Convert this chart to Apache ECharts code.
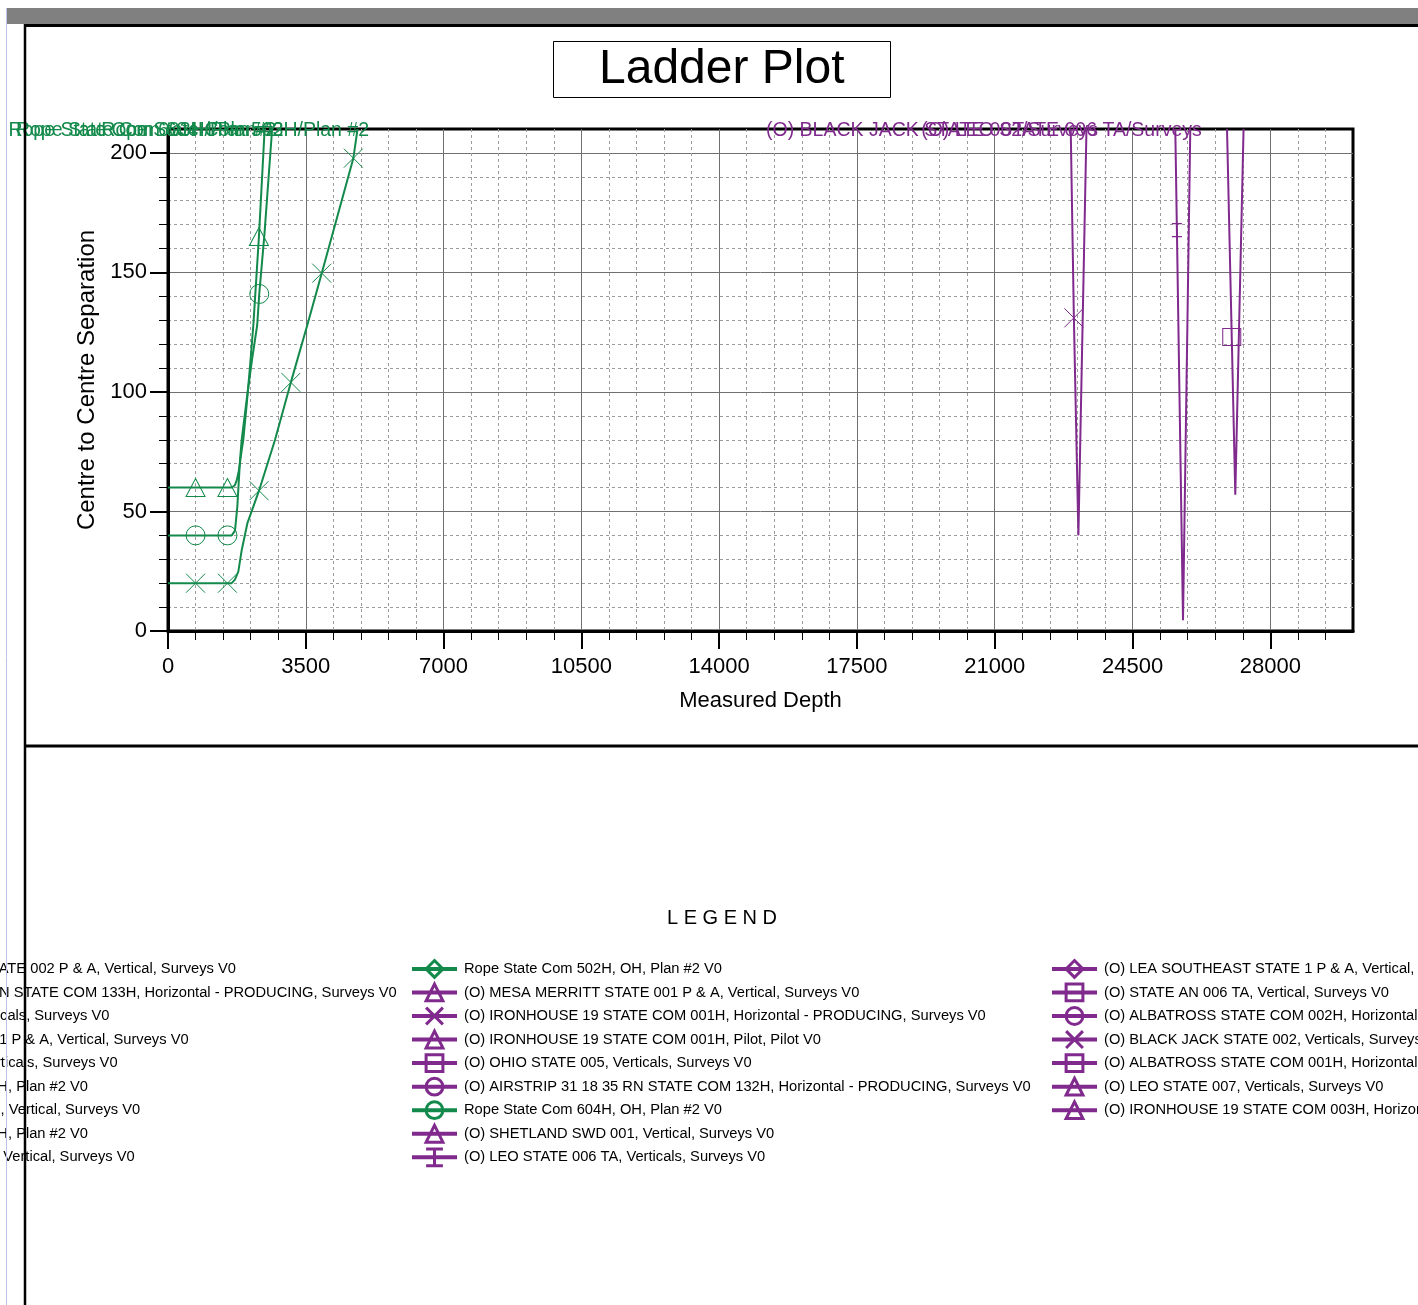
<!DOCTYPE html>
<html>
<head>
<meta charset="utf-8">
<title>Ladder Plot</title>
<script src="https://cdn.jsdelivr.net/npm/echarts@6/dist/echarts.min.js"></script>
<style>
  html, body { margin: 0; padding: 0; background: #fff; }
  #chart { width: 1418px; height: 1305px; }
</style>
</head>
<body>
<div id="chart"></div>
<script>
// ---- Axis ticks -------------------------------------------------------
const depthTicks = [0, 3500, 7000, 10500, 14000, 17500, 21000, 24500, 28000];
const sepTicks = [0, 50, 100, 150, 200];
const depthMax = 30100;
const sepMax = 210;

// ---- Plan wells (green): [measured depth, centre-to-centre separation] --
const rope503 = [[0, 20], [700, 20], [1510, 20], [1618, 20], [1700, 21.5], [1786, 24.8], [1873, 33.9], [2015, 45], [2312, 58.7], [2719, 80], [3120, 104], [3539, 128], [3905, 149.7], [4708, 197.8], [4815, 210]];
const rope503Markers = [700, 1510, 2312, 3120, 3905, 4708];

const rope603 = [[0, 60], [700, 60], [1510, 60], [1620, 60], [1700, 61], [1745, 63], [1800, 67], [1872, 75.7], [1913, 80], [2000, 95], [2090, 112], [2168, 128], [2310, 165], [2455, 210]];
const rope603Markers = [700, 1510, 2310];

const rope604 = [[0, 40], [700, 40], [1510, 40], [1620, 40], [1702, 42], [1761, 52], [1829, 71.5], [1872, 80], [2000, 97], [2130, 113], [2266, 128], [2318, 141], [2450, 166], [2645, 210]];
const rope604Markers = [700, 1510, 2318];

// ---- Offset wells (purple) --------------------------------------------
const blackJack002 = [[22930, 210], [23010, 131], [23125, 40], [23330, 210]];
const blackJack002Markers = [23010];

const leo006 = [[25586, 210], [25627, 167.7], [25782, 4.5], [25967, 210]];
const leo006Markers = [25627];

const ohio005 = [[26900, 210], [27020, 123], [27110, 57], [27320, 210]];
const ohio005Markers = [27020];

// ---- Legend columns ----------------------------------------------------
const legendCol1 = [
  '(O) LEA SOUTHEAST STATE 002 P & A, Vertical, Surveys V0',
  '(O) AIRSTRIP 31 18 35 RN STATE COM 133H, Horizontal - PRODUCING, Surveys V0',
  '(O) LEO STATE 005, Verticals, Surveys V0',
  '(O) CARDINAL STATE 001 P & A, Vertical, Surveys V0',
  '(O) OHIO STATE 006, Verticals, Surveys V0',
  'Rope State Com 503H, OH, Plan #2 V0',
  '(O) SHETLAND SWD 002, Vertical, Surveys V0',
  'Rope State Com 603H, OH, Plan #2 V0',
  '(O) SHETLAND STATE 1, Vertical, Surveys V0'
];
const legendCol2 = [
  'Rope State Com 502H, OH, Plan #2 V0',
  '(O) MESA MERRITT STATE 001 P & A, Vertical, Surveys V0',
  '(O) IRONHOUSE 19 STATE COM 001H, Horizontal - PRODUCING, Surveys V0',
  '(O) IRONHOUSE 19 STATE COM 001H, Pilot, Pilot V0',
  '(O) OHIO STATE 005, Verticals, Surveys V0',
  '(O) AIRSTRIP 31 18 35 RN STATE COM 132H, Horizontal - PRODUCING, Surveys V0',
  'Rope State Com 604H, OH, Plan #2 V0',
  '(O) SHETLAND SWD 001, Vertical, Surveys V0',
  '(O) LEO STATE 006 TA, Verticals, Surveys V0'
];
const legendCol3 = [
  '(O) LEA SOUTHEAST STATE 1 P & A, Vertical, Surveys V0',
  '(O) STATE AN 006 TA, Vertical, Surveys V0',
  '(O) ALBATROSS STATE COM 002H, Horizontal - PRODUCING, Surveys V0',
  '(O) BLACK JACK STATE 002, Verticals, Surveys V0',
  '(O) ALBATROSS STATE COM 001H, Horizontal - PRODUCING, Surveys V0',
  '(O) LEO STATE 007, Verticals, Surveys V0',
  '(O) IRONHOUSE 19 STATE COM 003H, Horizontal - PRODUCING, Surveys V0'
];

// ---- Styling -----------------------------------------------------------
const FONT = "'Liberation Sans', Arial, Helvetica, sans-serif";
const GREEN = '#138a4b';
const PURPLE = '#7f2a8c';
const SYM = {
  tri: 'triangle',
  circ: 'circle',
  sq: 'rect',
  dia: 'diamond',
  cross: 'path://M0,0L20,20M20,0L0,20',
  ibeam: 'path://M0,0L10,0M0,13L10,13M5,0L5,13'
};
const SYM_SIZE = {
  tri: [19, 18], circ: 19, sq: [18, 17], dia: 19, cross: 19, ibeam: [10, 13]
};

// well name -> [colour, marker kind, curve, marker depths, curve label]
const wells = {
  'Rope State Com 503H, OH, Plan #2 V0': [GREEN, 'cross', rope503, rope503Markers, 'Rope State Com 503H/Plan #2'],
  'Rope State Com 603H, OH, Plan #2 V0': [GREEN, 'tri', rope603, rope603Markers, 'Rope State Com 603H/Plan #2'],
  'Rope State Com 604H, OH, Plan #2 V0': [GREEN, 'circ', rope604, rope604Markers, 'Rope State Com 604H/Plan #2'],
  'Rope State Com 502H, OH, Plan #2 V0': [GREEN, 'dia'],
  '(O) BLACK JACK STATE 002, Verticals, Surveys V0': [PURPLE, 'cross', blackJack002, blackJack002Markers, '(O) BLACK JACK STATE 002/Surveys'],
  '(O) LEO STATE 006 TA, Verticals, Surveys V0': [PURPLE, 'ibeam', leo006, leo006Markers, '(O) LEO STATE 006 TA/Surveys'],
  '(O) OHIO STATE 005, Verticals, Surveys V0': [PURPLE, 'sq', ohio005, ohio005Markers, null],
  '(O) LEA SOUTHEAST STATE 002 P & A, Vertical, Surveys V0': [PURPLE, 'tri'],
  '(O) AIRSTRIP 31 18 35 RN STATE COM 133H, Horizontal - PRODUCING, Surveys V0': [PURPLE, 'circ'],
  '(O) LEO STATE 005, Verticals, Surveys V0': [PURPLE, 'sq'],
  '(O) CARDINAL STATE 001 P & A, Vertical, Surveys V0': [PURPLE, 'tri'],
  '(O) OHIO STATE 006, Verticals, Surveys V0': [PURPLE, 'dia'],
  '(O) SHETLAND SWD 002, Vertical, Surveys V0': [PURPLE, 'tri'],
  '(O) SHETLAND STATE 1, Vertical, Surveys V0': [PURPLE, 'sq'],
  '(O) MESA MERRITT STATE 001 P & A, Vertical, Surveys V0': [PURPLE, 'tri'],
  '(O) IRONHOUSE 19 STATE COM 001H, Horizontal - PRODUCING, Surveys V0': [PURPLE, 'cross'],
  '(O) IRONHOUSE 19 STATE COM 001H, Pilot, Pilot V0': [PURPLE, 'tri'],
  '(O) AIRSTRIP 31 18 35 RN STATE COM 132H, Horizontal - PRODUCING, Surveys V0': [PURPLE, 'circ'],
  '(O) SHETLAND SWD 001, Vertical, Surveys V0': [PURPLE, 'tri'],
  '(O) LEA SOUTHEAST STATE 1 P & A, Vertical, Surveys V0': [PURPLE, 'dia'],
  '(O) STATE AN 006 TA, Vertical, Surveys V0': [PURPLE, 'sq'],
  '(O) ALBATROSS STATE COM 002H, Horizontal - PRODUCING, Surveys V0': [PURPLE, 'circ'],
  '(O) ALBATROSS STATE COM 001H, Horizontal - PRODUCING, Surveys V0': [PURPLE, 'sq'],
  '(O) LEO STATE 007, Verticals, Surveys V0': [PURPLE, 'tri'],
  '(O) IRONHOUSE 19 STATE COM 003H, Horizontal - PRODUCING, Surveys V0': [PURPLE, 'tri']
};

// depth at which a curve last crosses the top of the separation scale
function exitDepth(pts, level) {
  let d = null;
  for (let i = 1; i < pts.length; i++) {
    const [x0, y0] = pts[i - 1], [x1, y1] = pts[i];
    if ((y0 - level) * (y1 - level) <= 0 && y0 !== y1) {
      d = x0 + (x1 - x0) * (level - y0) / (y1 - y0);
    }
  }
  return d;
}

const series = Object.keys(wells).map(name => {
  const [color, kind, pts = [], marks = [], label = null] = wells[name];
  const s = {
    type: 'line',
    name: name,
    xAxisIndex: 0,
    yAxisIndex: 0,
    symbol: SYM[kind],
    symbolSize: SYM_SIZE[kind],
    showSymbol: true,
    showAllSymbol: true,
    clip: true,
    silent: true,
    lineStyle: { color: color, width: 2 },
    itemStyle: { color: 'rgba(0,0,0,0)', borderColor: color, borderWidth: 1 },
    emphasis: { disabled: true },
    data: pts.map(p => marks.indexOf(p[0]) >= 0 ? { value: p } : { value: p, symbol: 'none' })
  };
  if (label) {
    s.markPoint = {
      silent: true,
      symbol: 'rect',
      symbolSize: 1,
      itemStyle: { color: 'rgba(0,0,0,0)' },
      label: {
        show: true,
        position: 'left',
        distance: -12,
        offset: [0, 2],
        formatter: label,
        color: color,
        fontSize: 19.5,
        fontFamily: FONT
      },
      data: [{ coord: [exitDepth(pts, sepMax), sepMax] }]
    };
  }
  return s;
});

function legendColumn(names, left) {
  return {
    show: true,
    orient: 'vertical',
    left: left,
    top: 959,
    padding: 0,
    itemWidth: 45,
    itemHeight: 21,
    itemGap: 3.75,
    selectedMode: false,
    textStyle: { fontSize: 14.7, color: '#000', fontFamily: FONT, padding: [0, 0, 0, 2] },
    data: names.map(n => ({
      name: n,
      itemStyle: { color: 'rgba(0,0,0,0)', borderColor: wells[n][0], borderWidth: 3 },
      lineStyle: { color: wells[n][0], width: 4 }
    }))
  };
}

// minor grid positions every 700 ft / 10 ft
const depthMinor = [];
for (let v = 0; v < depthMax; v += 700) depthMinor.push(v);
const sepMinor = [];
for (let v = 0; v < sepMax; v += 10) sepMinor.push(v);

const option = {
  backgroundColor: '#fff',
  animation: false,
  textStyle: { fontFamily: FONT },
  title: {
    text: 'Ladder Plot',
    left: 553,
    top: 41,
    padding: [5, 46, 4, 46],
    borderColor: '#000',
    borderWidth: 1,
    textStyle: { fontSize: 48, fontWeight: 'normal', color: '#000', fontFamily: FONT }
  },
  grid: {
    left: 168, top: 129, width: 1185, height: 502,
    show: true, borderColor: '#000', borderWidth: 3,
    containLabel: false, outerBoundsMode: 'none'
  },
  xAxis: [
    {
      type: 'value', position: 'bottom', min: 0, max: depthMax, interval: 700,
      axisLine: { show: true, onZero: false, lineStyle: { color: '#000', width: 3 } },
      axisTick: { show: true, length: 9, customValues: depthMinor, lineStyle: { color: '#000', width: 1 } },
      axisLabel: { show: false },
      splitLine: { show: true, lineStyle: { color: '#9c9c9c', width: 1, type: [3, 3] } }
    },
    {
      type: 'value', position: 'bottom', min: 0, max: depthMax, interval: 3500,
      axisLine: { show: false, onZero: false },
      axisTick: { show: true, length: 18, customValues: depthTicks, lineStyle: { color: '#000', width: 2 } },
      axisLabel: {
        show: true, customValues: depthTicks, margin: 25, fontSize: 22, color: '#000', fontFamily: FONT,
        formatter: v => String(v)
      },
      splitLine: { show: true, lineStyle: { color: '#707070', width: 1 } },
      name: 'Measured Depth', nameLocation: 'middle', nameGap: 59,
      nameTextStyle: { fontSize: 22, color: '#000', fontFamily: FONT }
    }
  ],
  yAxis: [
    {
      type: 'value', position: 'left', min: 0, max: sepMax, interval: 10,
      axisLine: { show: true, onZero: false, lineStyle: { color: '#000', width: 3 } },
      axisTick: { show: true, length: 9, customValues: sepMinor, lineStyle: { color: '#000', width: 1 } },
      axisLabel: { show: false },
      splitLine: { show: true, lineStyle: { color: '#9c9c9c', width: 1, type: [3, 3] } }
    },
    {
      type: 'value', position: 'left', min: 0, max: sepMax, interval: 50,
      axisLine: { show: false, onZero: false },
      axisTick: { show: true, length: 18, customValues: sepTicks, lineStyle: { color: '#000', width: 2 } },
      axisLabel: {
        show: true, customValues: sepTicks, margin: 21, fontSize: 22, color: '#000', fontFamily: FONT,
        formatter: v => String(v)
      },
      splitLine: { show: true, lineStyle: { color: '#707070', width: 1 } },
      name: 'Centre to Centre Separation', nameLocation: 'middle', nameGap: 68,
      nameTextStyle: { fontSize: 24, color: '#000', fontFamily: FONT }
    }
  ],
  legend: [
    legendColumn(legendCol1, -224),
    legendColumn(legendCol2, 410),
    legendColumn(legendCol3, 1050)
  ],
  graphic: [
    { type: 'rect', z: 100, silent: true, shape: { x: 7, y: 8, width: 1411, height: 16 }, style: { fill: '#808080' } },
    { type: 'line', z: 100, silent: true, shape: { x1: 6.5, y1: 8, x2: 6.5, y2: 1305 }, style: { stroke: '#b9c3e6', lineWidth: 1 } },
    { type: 'line', z: 100, silent: true, shape: { x1: 24, y1: 25.5, x2: 1418, y2: 25.5 }, style: { stroke: '#000', lineWidth: 3 } },
    { type: 'line', z: 100, silent: true, shape: { x1: 25, y1: 24, x2: 25, y2: 1305 }, style: { stroke: '#000', lineWidth: 2.5 } },
    { type: 'line', z: 100, silent: true, shape: { x1: 24, y1: 746, x2: 1418, y2: 746 }, style: { stroke: '#000', lineWidth: 3 } },
    {
      type: 'text', z: 100, silent: true, x: 722, y: 918,
      style: { text: 'L E G E N D', fill: '#000', fontSize: 20, fontFamily: FONT, textAlign: 'center', textVerticalAlign: 'middle', verticalAlign: 'middle' }
    }
  ],
  series: series
};

const chart = echarts.init(document.getElementById('chart'), null, { renderer: 'canvas' });
chart.setOption(option);
</script>
</body>
</html>
